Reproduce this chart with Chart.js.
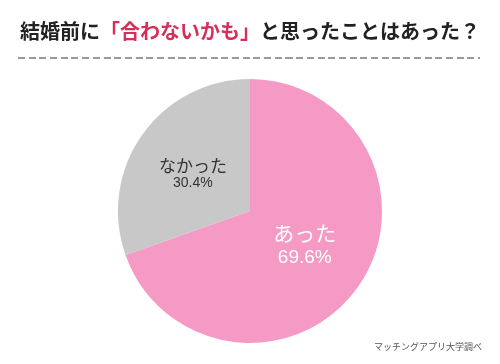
<!DOCTYPE html>
<html>
<head>
<meta charset="utf-8">
<script src="https://cdn.jsdelivr.net/npm/chart.js@4/dist/chart.umd.min.js"></script>
<style>
  html, body { margin: 0; padding: 0; background: #fff; }
  #wrap { position: relative; width: 500px; height: 364px; }
  #title {
    position: absolute; left: 0; top: 16px; width: 500px; text-align: center;
    font-family: "Noto Sans CJK JP"; font-weight: bold; font-size: 20px; color: #222;
    white-space: nowrap;
  }
  #title .red { color: #d52f5a; }
  #dash {
    position: absolute; left: 18px; top: 57px; width: 462px; height: 2px;
    background: repeating-linear-gradient(to right, #999 0, #999 7px, transparent 7px, transparent 10.7px);
  }
  #source {
    position: absolute; right: 18px; top: 340px;
    font-family: "Noto Sans CJK JP"; font-size: 9px; color: #555;
  }
</style>
</head>
<body>
<div id="wrap">
  <canvas id="pieCanvas" width="500" height="364"></canvas>
  <div id="title">結婚前に<span class="red">「合わないかも」</span>と思ったことはあった？</div>
  <div id="dash"></div>
  <div id="source">マッチングアプリ大学調べ</div>
</div>
<script>
const labels = ["あった", "なかった"];
const values = [69.6, 30.4];
const colors = ["#f49ac5", "#c8c8c8"];

// label inside each slice
const sliceLabels = {
    id: "sliceLabels",
    afterDatasetsDraw(chart) {
        const ctx = chart.ctx;
        const meta = chart.getDatasetMeta(0);
        meta.data.forEach((arc, i) => {
            const mid = (arc.startAngle + arc.endAngle) / 2;
            const r = arc.outerRadius * (i === 0 ? 0.49 : 0.53);
            const x = arc.x + Math.cos(mid) * r + (i === 0 ? 2 : 0);
            const y = arc.y + Math.sin(mid) * r + (i === 0 ? -3 : 4);
            const gap = i === 0 ? 12 : 9;
            ctx.save();
            ctx.textAlign = "center";
            ctx.textBaseline = "middle";
            ctx.fillStyle = i === 0 ? "#ffffff" : "#333333";
            ctx.font = (i === 0 ? 21 : 17) + "px 'Noto Sans CJK JP'";
            ctx.fillText(labels[i], x, y - gap);
            ctx.font = (i === 0 ? 19 : 14) + "px 'Liberation Sans'";
            ctx.fillText(values[i] + "%", x, y + gap);
            ctx.restore();
        });
    }
};

const pieCanvas = document.getElementById("pieCanvas");

const pieChart = new Chart(pieCanvas, {
    type: "pie",
    data: {
        labels: labels,
        datasets: [{
            data: values,
            backgroundColor: colors,
            borderWidth: 0
        }]
    },
    options: {
        responsive: false,
        animation: false,
        layout: { padding: { top: 79, bottom: 21 } },
        plugins: {
            legend: { display: false },
            tooltip: { enabled: false }
        }
    },
    plugins: [sliceLabels]
});
</script>
</body>
</html>
